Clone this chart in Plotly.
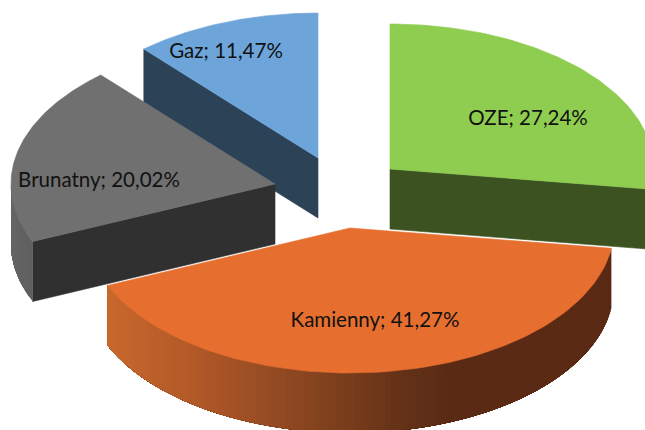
import math
import plotly.graph_objects as go

# Data
categories = ["OZE", "Kamienny", "Brunatny", "Gaz"]
values = [27.24, 41.27, 20.02, 11.47]
value_labels = ["27,24%", "41,27%", "20,02%", "11,47%"]

# Pie styling (pixels of the 645x430 canvas)
RX, RY, DEPTH = 264, 145, 60
apex = {"OZE": (390, 169), "Kamienny": (350, 228), "Brunatny": (275, 184), "Gaz": (318, 158)}
top_color = {"OZE": "#8ecd50", "Kamienny": "#e66f2f", "Brunatny": "#707070", "Gaz": "#6da5db"}
face_color = {"OZE": "#3c5220", "Brunatny": "#303030", "Gaz": "#2c4257"}
label_pos = {"OZE": (528, 120), "Kamienny": (375, 322), "Brunatny": (99, 182), "Gaz": (226, 53)}
draw_order = ["Gaz", "OZE", "Brunatny", "Kamienny"]

# Slice angles from values (clockwise from 12 o'clock)
total = sum(values)
angles = {}
acc = 0.0
for c, v in zip(categories, values):
    angles[c] = (acc / total * 2 * math.pi, (acc + v) / total * 2 * math.pi)
    acc += v


def pt(c, t, dz=0.0):
    ax, ay = apex[c]
    return ax + RX * math.sin(t), ay - RY * math.cos(t) + dz


def arc(c, t0, t1, dz=0.0, n=90):
    return [pt(c, t0 + (t1 - t0) * i / n, dz) for i in range(n + 1)]


def lerp_color(stops, x):
    for (x0, c0), (x1, c1) in zip(stops, stops[1:]):
        if x <= x1:
            f = max(0.0, (x - x0) / (x1 - x0))
            return "rgb(%d,%d,%d)" % tuple(round(a + (b - a) * f) for a, b in zip(c0, c1))
    return "rgb(%d,%d,%d)" % stops[-1][1]


fig = go.Figure()


def poly(points, color, line=True):
    xs = [p[0] for p in points] + [points[0][0]]
    ys = [p[1] for p in points] + [points[0][1]]
    fig.add_trace(go.Scatter(
        x=xs, y=ys, mode="lines", fill="toself", fillcolor=color,
        line=dict(color=color, width=0.6 if line else 0),
        hoverinfo="skip", showlegend=False))


kam_stops = [(106, (200, 104, 44)), (200, (176, 88, 40)), (300, (138, 70, 32)),
             (400, (100, 50, 24)), (450, (90, 42, 20)), (620, (90, 42, 20))]
brun_stops = [(0, (104, 104, 104)), (40, (92, 92, 92))]

for c in draw_order:
    t0, t1 = angles[c]
    ax, ay = apex[c]
    # straight cut wall
    if c == "Gaz":
        e = pt(c, t0)
        poly([e, (ax, ay), (ax, ay + DEPTH), (e[0], e[1] + DEPTH)], face_color[c])
    elif c == "OZE":
        e = pt(c, t1)
        poly([(ax, ay), e, (e[0], e[1] + DEPTH), (ax, ay + DEPTH)], face_color[c])
    elif c == "Brunatny":
        e = pt(c, t0)
        poly([e, (ax, ay), (ax, ay + DEPTH), (e[0], e[1] + DEPTH)], face_color[c])
    # curved outer wall, drawn as overlapping strips to carry the shading
    if c in ("Kamienny", "Brunatny"):
        stops = kam_stops if c == "Kamienny" else brun_stops
        a0 = t0
        a1 = t1 if c == "Kamienny" else 1.5 * math.pi
        n = 110 if c == "Kamienny" else 12
        for i in range(n):
            s0 = a0 + (a1 - a0) * i / n
            s1 = a0 + (a1 - a0) * (i + 1) / n
            color = lerp_color(stops, (pt(c, s0)[0] + pt(c, s1)[0]) / 2)
            # each strip runs on to the far end of the wall and the next one paints over it
            rest = arc(c, s0, a1, 0.0, 30)
            bottom = arc(c, a1, s0, DEPTH, 30)
            poly(rest + bottom, color, line=False)
    # top surface
    poly([(ax, ay)] + arc(c, t0, t1), top_color[c])

for c, v in zip(categories, value_labels):
    x, y = label_pos[c]
    fig.add_trace(go.Scatter(
        x=[x], y=[y], mode="text", text=[f"{c}; {v}"],
        textposition="middle center",
        textfont=dict(family="Lato, Carlito, sans-serif", size=20.5, color="#111111"),
        hoverinfo="skip", showlegend=False))

fig.update_layout(
    width=645, height=430, margin=dict(l=0, r=0, t=0, b=0),
    paper_bgcolor="white", plot_bgcolor="white", showlegend=False,
    xaxis=dict(range=[0, 645], visible=False, fixedrange=True),
    yaxis=dict(range=[430, 0], visible=False, fixedrange=True),
)
fig.write_html("out.html", post_script="document.body.style.margin='0';",
               config={"displayModeBar": False})
